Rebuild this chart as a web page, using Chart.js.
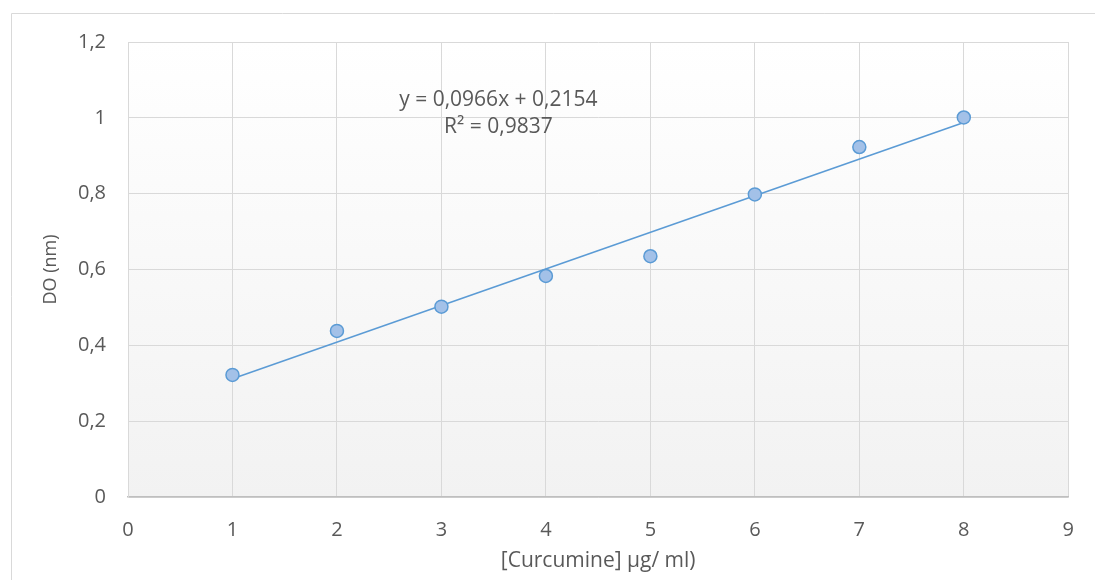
<!DOCTYPE html>
<html>
<head>
<meta charset="utf-8">
<script src="https://cdn.jsdelivr.net/npm/chart.js@4"></script>
<style>
html,body{margin:0;padding:0;background:#fff;}
#wrap{width:1095px;height:580px;position:relative;}
</style>
</head>
<body>
<div id="wrap"><canvas id="c" width="1095" height="580"></canvas></div>
<script>
const concentrations = [1, 2, 3, 4, 5, 6, 7, 8];
const absorbance = [0.322, 0.438, 0.502, 0.583, 0.635, 0.798, 0.923, 1.001];
const trendX = [1, 8];
const trendY = [0.312, 0.988];
const equationLines = ['y = 0,0966x + 0,2154', 'R² = 0,9837'];
const labelPos = {x: 3.545, y: 1.047};
const xTicks = [0,1,2,3,4,5,6,7,8,9];
const yTicks = [0,0.2,0.4,0.6,0.8,1,1.2];

const FONT = '"Open Sans", "Liberation Sans", sans-serif';
const TXT = '#595959';
const GRID = '#d9d9d9';

const fmt = v => String(Math.round(v*10)/10).replace('.', ',');

const bgPlugin = {
  id: 'bg',
  beforeDraw(chart) {
    const {ctx, chartArea: a} = chart;
    ctx.save();
    ctx.strokeStyle = '#d9d9d9';
    ctx.lineWidth = 1;
    ctx.beginPath();
    ctx.moveTo(11.5, 580);
    ctx.lineTo(11.5, 13.5);
    ctx.lineTo(1095, 13.5);
    ctx.stroke();
    const g = ctx.createLinearGradient(0, a.top, 0, a.bottom);
    g.addColorStop(0, '#ffffff');
    g.addColorStop(1, '#f2f2f2');
    ctx.fillStyle = g;
    ctx.fillRect(a.left, a.top, a.right - a.left, a.bottom - a.top);
    ctx.restore();
  },
  afterDatasetsDraw(chart) {
    const {ctx, scales} = chart;
    const x = scales.x.getPixelForValue(labelPos.x);
    const y = scales.y.getPixelForValue(labelPos.y);
    ctx.save();
    ctx.fillStyle = TXT;
    ctx.font = '21px ' + FONT;
    ctx.textAlign = 'center';
    ctx.textBaseline = 'middle';
    ctx.fillText(equationLines[0], x, y);
    ctx.fillText(equationLines[1], x, y + 27);
    ctx.restore();
  }
};

new Chart(document.getElementById('c'), {
  type: 'scatter',
  data: {
    datasets: [
      {
        type: 'line',
        data: trendX.map((v, i) => ({x: v, y: trendY[i]})),
        borderColor: '#5b9bd5',
        borderWidth: 1.6,
        pointRadius: 0,
        fill: false,
        order: 2
      },
      {
        data: concentrations.map((v, i) => ({x: v, y: absorbance[i]})),
        backgroundColor: '#a3c1e8',
        borderColor: '#5b9bd5',
        borderWidth: 1.5,
        pointRadius: 6.5,
        order: 1
      }
    ]
  },
  plugins: [bgPlugin],
  options: {
    responsive: false,
    animation: false,
    events: [],
    layout: {padding: {left: 0, top: 42, right: 21, bottom: 0}},
    plugins: {legend: {display: false}, tooltip: {enabled: false}},
    scales: {
      x: {
        type: 'linear', min: 0, max: 9,
        afterBuildTicks: s => { s.ticks = xTicks.map(v => ({value: v})); },
        afterFit: s => { s.height = 83; },
        grid: {color: GRID, lineWidth: 1, tickLength: 0, drawTicks: false},
        border: {color: '#bfbfbf', width: 1.5},
        ticks: {color: TXT, font: {family: FONT, size: 20}, padding: 21, callback: v => String(v)},
        title: {display: true, text: '[Curcumine] µg/ ml)', color: TXT, font: {family: FONT, size: 21}, padding: {top: 0, bottom: 6}}
      },
      y: {
        type: 'linear', min: 0, max: 1.2,
        afterBuildTicks: s => { s.ticks = yTicks.map(v => ({value: v})); },
        afterFit: s => { s.width = 128; },
        grid: {color: GRID, lineWidth: 1, tickLength: 0, drawTicks: false},
        border: {color: GRID, width: 1},
        ticks: {color: TXT, font: {family: FONT, size: 20}, padding: 22, callback: v => fmt(v)},
        title: {display: true, text: 'DO (nm)', color: TXT, font: {family: FONT, size: 18}, padding: {top: 40, bottom: 0}}
      }
    }
  }
});
</script>
</body>
</html>
